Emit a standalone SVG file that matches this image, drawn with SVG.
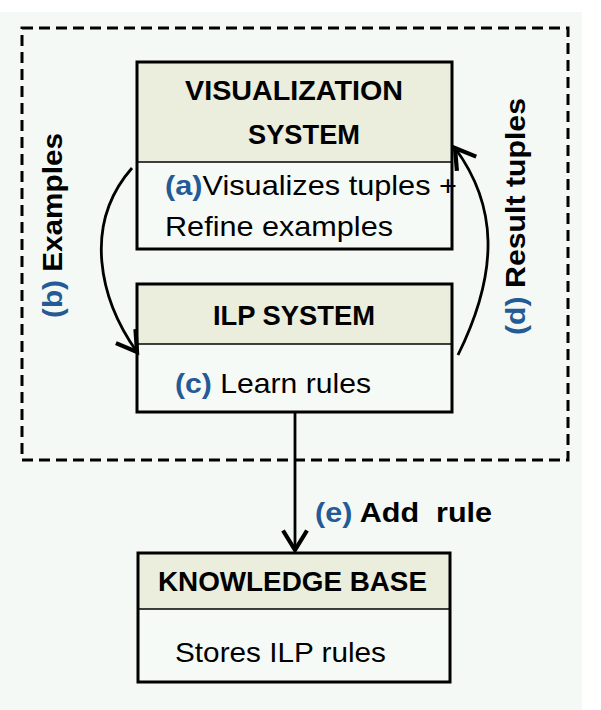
<svg xmlns="http://www.w3.org/2000/svg" width="601" height="710" viewBox="0 0 601 710">
<defs>
<style>
.bg{fill:#F4F9F5}
.hdr{fill:#EBEDDD}
.body{fill:#F6FAF7}
.frame{fill:none;stroke:#000;stroke-width:3}
.div{stroke:#000;stroke-width:1.5}
.t{font-family:"Liberation Sans",Arial,sans-serif;font-size:28px;fill:#000}
.b{font-weight:bold}
.blue{fill:#245A96;font-weight:bold}
.conn{fill:none;stroke:#000;stroke-width:2.8}
.dash{fill:none;stroke:#000;stroke-width:3;stroke-dasharray:11 6}
</style>
<marker id="arr" markerUnits="userSpaceOnUse" markerWidth="30" markerHeight="30" viewBox="-16 -10 20 20" refX="0" refY="0" orient="auto">
<path d="M-13,-8 L0,0 L-13,8" fill="none" stroke="#000" stroke-width="2.8" stroke-linejoin="miter"/>
</marker>
</defs>
<rect x="0" y="0" width="601" height="710" fill="#fff"/>
<rect class="bg" x="0" y="12" width="582" height="698"/>
<rect class="dash" x="22" y="28" width="546" height="432"/>

<g id="vis">
<rect class="hdr" x="137" y="62" width="315" height="100"/>
<rect class="body" x="137" y="162" width="315" height="87"/>
<text class="t b" x="294" y="100" text-anchor="middle" textLength="218" lengthAdjust="spacingAndGlyphs">VISUALIZATION</text>
<text class="t b" x="304" y="144" text-anchor="middle" textLength="112" lengthAdjust="spacingAndGlyphs">SYSTEM</text>
<text class="t" x="165" y="195" textLength="292" lengthAdjust="spacingAndGlyphs"><tspan class="blue">(a)</tspan>Visualizes tuples +</text>
<text class="t" x="165" y="236" textLength="228" lengthAdjust="spacingAndGlyphs">Refine examples</text>
<line class="div" x1="137" y1="162" x2="452" y2="162"/>
<rect class="frame" x="137" y="62" width="315" height="187"/>
</g>

<g id="ilp">
<rect class="hdr" x="137" y="284" width="315" height="60"/>
<rect class="body" x="137" y="344" width="315" height="68"/>
<text class="t b" x="294" y="325" text-anchor="middle" textLength="162" lengthAdjust="spacingAndGlyphs">ILP SYSTEM</text>
<text class="t" x="175" y="393" textLength="196" lengthAdjust="spacingAndGlyphs"><tspan class="blue">(c)</tspan> Learn rules</text>
<line class="div" x1="137" y1="344" x2="452" y2="344"/>
<rect class="frame" x="137" y="284" width="315" height="128"/>
</g>

<g id="kb">
<rect class="hdr" x="138" y="553" width="312" height="56"/>
<rect class="body" x="138" y="609" width="312" height="73"/>
<text class="t b" x="292.5" y="591" text-anchor="middle" textLength="269" lengthAdjust="spacingAndGlyphs">KNOWLEDGE BASE</text>
<text class="t" x="175" y="662" textLength="211" lengthAdjust="spacingAndGlyphs">Stores ILP rules</text>
<line class="div" x1="138" y1="609" x2="450" y2="609"/>
<rect class="frame" x="138" y="553" width="312" height="129"/>
</g>

<g id="connectors">
<path class="conn" d="M132,168 C82,225 100,300 137,352" marker-end="url(#arr)"/>
<path class="conn" d="M458,355 C500,270 497,205 455,148" marker-end="url(#arr)"/>
<path class="conn" d="M295,412 L295,550" marker-end="url(#arr)"/>
</g>

<g id="labels">
<text class="t b" transform="translate(62,318) rotate(-90)" textLength="185" lengthAdjust="spacingAndGlyphs"><tspan class="blue">(b)</tspan> Examples</text>
<text class="t b" transform="translate(525,335) rotate(-90)" textLength="237" lengthAdjust="spacingAndGlyphs"><tspan class="blue">(d)</tspan> Result tuples</text>
<text class="t b" x="315" y="522" xml:space="preserve" textLength="177" lengthAdjust="spacingAndGlyphs"><tspan class="blue">(e)</tspan> Add  rule</text>
</g>
</svg>
